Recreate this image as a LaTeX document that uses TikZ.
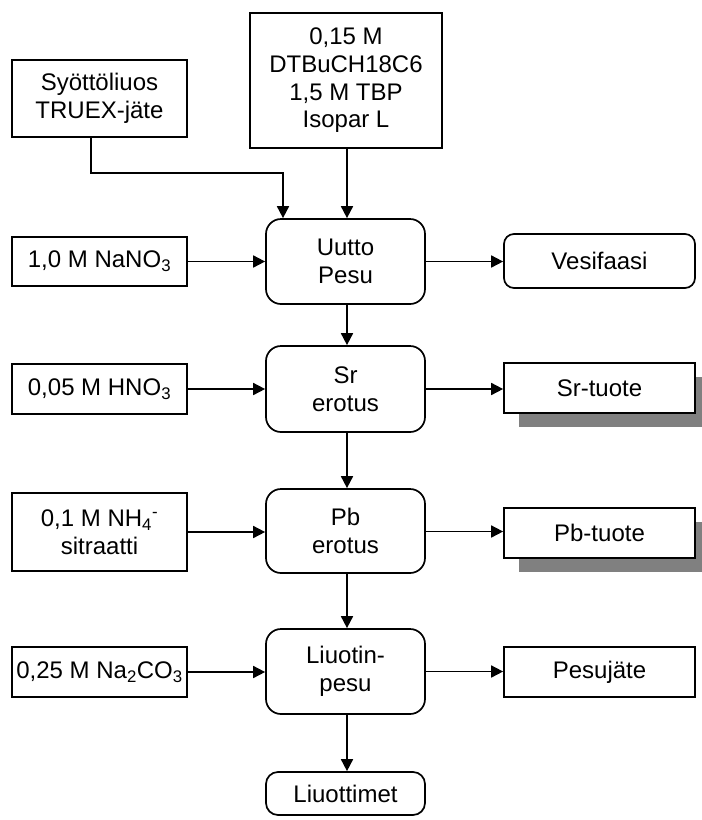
\documentclass[tikz,border=0pt]{standalone}
\usepackage{fontspec}
\setmainfont{Liberation Sans}
\usetikzlibrary{arrows.meta,shadows}
\begin{document}
\begin{tikzpicture}[x=1pt,y=-1pt,
  every node/.style={font=\fontsize{24}{27.6}\selectfont, align=center, inner sep=0pt, line width=1.7pt},
  feed/.style={draw, minimum width=175pt},
  stage/.style={draw, rounded corners=15pt, minimum width=159pt, minimum height=85pt},
  product/.style={draw, fill=white, minimum width=191pt, minimum height=50pt},
  shadowed/.style={drop shadow={shadow xshift=15pt, shadow yshift=-14pt, fill=black!50, opacity=1}},
  flow/.style={line width=1.7pt, -{Triangle[length=12pt,width=12pt]}},
]
\useasboundingbox (0,0) rectangle (702,820);
\clip (0,0) rectangle (702,820);
\fill[white] (0,0) rectangle (702,820);

% inputs
\node[feed, minimum height=77pt] (syotto) at (99.5,98.5) {Syöttöliuos\\TRUEX-jäte};
\node[draw, minimum width=192pt, minimum height=135pt] (solvent) at (346,80.5)
  {0,15 M\\DTBuCH18C6\\1,5 M TBP\\Isopar L};
\node[feed, minimum height=49pt] (nano3) at (99.5,261.5) {1,0 M NaNO\textsubscript{3}};
\node[feed, minimum height=50pt] (hno3) at (99.5,389) {0,05 M HNO\textsubscript{3}};
\node[feed, minimum height=78pt] (nh4) at (99.5,532) {0,1 M NH\textsubscript{4}\textsuperscript{-}\\sitraatti};
\node[feed, minimum height=50pt] (na2co3) at (99.5,672) {0,25 M Na\textsubscript{2}CO\textsubscript{3}};

% process stages
\node[stage] (uutto) at (345.5,261.5) {Uutto\\Pesu};
\node[stage, minimum height=86pt] (sr) at (345.5,389) {Sr\\erotus};
\node[stage, minimum height=84pt] (pb) at (345.5,531) {Pb\\erotus};
\node[stage] (liuotin) at (345.5,671.5) {Liuotin-\\pesu};
\node[stage, rounded corners=12pt, minimum height=43pt] (liuottimet) at (345.5,793.5) {Liuottimet};

% outputs
\node[draw, rounded corners=10pt, minimum width=191pt, minimum height=54pt] (vesi) at (599.5,261) {Vesifaasi};
\node[product, shadowed] (srt) at (599.5,388) {Sr-tuote};
\node[product, shadowed] (pbt) at (599.5,533) {Pb-tuote};
\node[product] (pesu) at (599.5,672) {Pesujäte};

% connectors
\draw[flow] ([xshift=-8.5pt]syotto.south) -- ++(0,35) -| ([xshift=-62.5pt]uutto.north);
\draw[flow] ([xshift=1pt]solvent.south) -- ([xshift=1.5pt]uutto.north);
\draw[flow] (nano3.east) -- (nano3.east -| uutto.west);
\draw[flow] (hno3.east) -- (hno3.east -| sr.west);
\draw[flow] (nh4.east) -- (nh4.east -| pb.west);
\draw[flow] (na2co3.east) -- (na2co3.east -| liuotin.west);

\draw[flow] (uutto.east) -- (uutto.east -| vesi.west);
\draw[flow] (sr.east) -- (sr.east -| srt.west);
\draw[flow] ([yshift=-0.5pt]pb.east) -- ([yshift=-0.5pt]pb.east -| pbt.west);
\draw[flow] (liuotin.east) -- (liuotin.east -| pesu.west);

\draw[flow] ([xshift=1.5pt]uutto.south) -- ([xshift=1.5pt]sr.north);
\draw[flow] ([xshift=1.5pt]sr.south) -- ([xshift=1.5pt]pb.north);
\draw[flow] ([xshift=1.5pt]pb.south) -- ([xshift=1.5pt]liuotin.north);
\draw[flow] ([xshift=1.5pt]liuotin.south) -- ([xshift=1.5pt]liuottimet.north);
\end{tikzpicture}
\end{document}
